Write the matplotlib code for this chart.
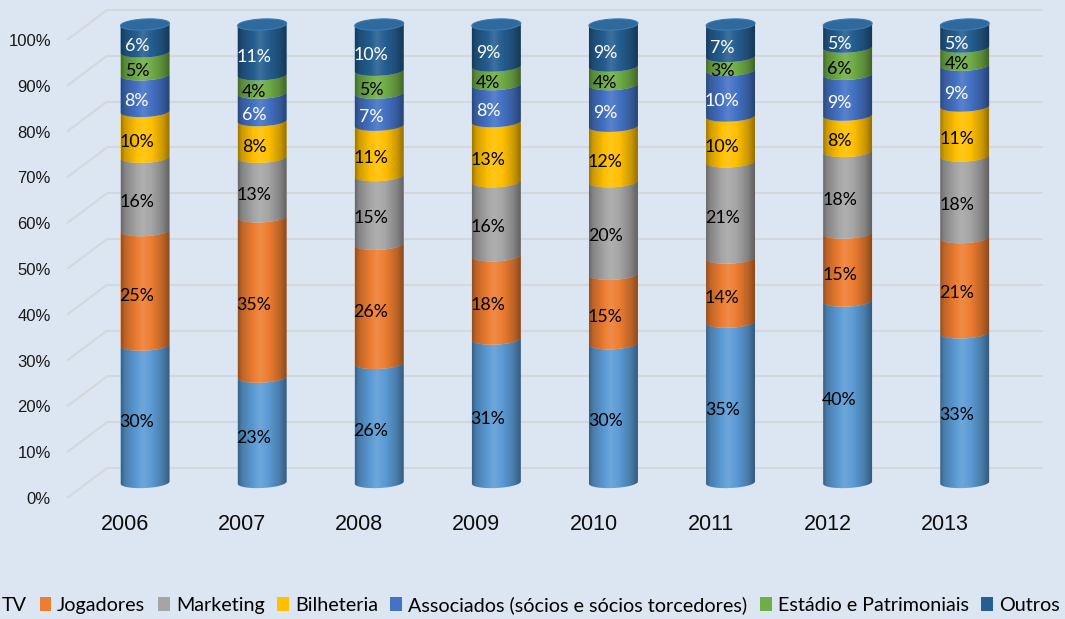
import numpy as np
import matplotlib
matplotlib.use('Agg')
import matplotlib.pyplot as plt
from matplotlib.patches import Polygon, Patch

# ---------------- data ----------------
years = ['2006', '2007', '2008', '2009', '2010', '2011', '2012', '2013']
series_names = ['TV', 'Jogadores', 'Marketing', 'Bilheteria',
                'Associados (sócios e sócios torcedores)',
                'Estádio e Patrimoniais', 'Outros']
tv          = [30, 23, 26, 31, 30, 35, 40, 33]
jogadores   = [25, 35, 26, 18, 15, 14, 15, 21]
marketing   = [16, 13, 15, 16, 20, 21, 18, 18]
bilheteria  = [10,  8, 11, 13, 12, 10,  8, 11]
associados  = [ 8,  6,  7,  8,  9, 10,  9,  9]
estadio     = [ 5,  4,  5,  4,  4,  3,  6,  4]
outros      = [ 6, 11, 10,  9,  9,  7,  5,  5]
y_ticks = [0, 10, 20, 30, 40, 50, 60, 70, 80, 90, 100]

series = [tv, jogadores, marketing, bilheteria, associados, estadio, outros]
colors = ['#5B9BD5', '#ED7D31', '#A5A5A5', '#FFC000', '#4472C4', '#70AD47', '#255E91']
label_colors = ['black', 'black', 'black', 'black', 'white', 'black', 'white']
cap_color = '#2F6A9F'
bg = '#DCE6F2'
grid_c = '#D3D8DE'

# ---------------- figure ----------------
W, H = 1065, 619
fig = plt.figure(figsize=(W / 100, H / 100), dpi=100, facecolor=bg)
ax = fig.add_axes([60 / W, 114 / H, 1005 / W, 505 / H])
ax.set_facecolor('none')
for s in ax.spines.values():
    s.set_visible(False)

XL = (-0.726, 7.856)
YL = (-4.91, 105.35)
front_off = -3.38
back_off = 3.17

# perspective gridlines (side wall + back wall)
for v in y_ticks:
    ax.plot([-0.666, -0.3245], [v + front_off, v + back_off], color=grid_c, lw=1.6,
            solid_capstyle='butt', zorder=0)
    ax.plot([-0.3245, 7.669], [v + back_off, v + back_off], color=grid_c, lw=1.6,
            solid_capstyle='butt', zorder=0)

# normalise to 100 % (Excel 100 % stacked)
data = np.array(series, dtype=float)
totals = data.sum(axis=0)
pct = data / totals * 100.0

hw = 0.209      # half bar width (category units)
ry = 1.2        # ellipse half-height (percent units)
tilt = 0.25     # slight tilt of ellipses

t_low = np.linspace(np.pi, 2 * np.pi, 60)


def arc(c, v, t):
    x = c + hw * np.cos(t)
    y = v + ry * np.sin(t) + tilt * np.cos(t)
    return x, y


# horizontal shading profile of a cylinder
nx = 200
u = np.linspace(0, 1, nx)
shade = np.interp(u, [0, 0.08, 0.3, 0.45, 0.62, 0.85, 1.0],
                  [0.38, 0.2, 0.02, -0.12, 0.0, 0.2, 0.42])
rgba = np.zeros((2, nx, 4))
rgba[..., 0:3] = np.where(shade[None, :, None] > 0, 0.0, 1.0)
rgba[..., 3] = np.abs(shade)[None, :]

for i in range(len(years)):
    c = i
    bottom = 0.0
    for k in range(len(series)):
        h = pct[k, i]
        top = bottom + h
        xt, yt = arc(c, top, t_low)
        xb, yb = arc(c, bottom, t_low[::-1])
        poly = Polygon(np.column_stack([np.r_[xt, xb], np.r_[yt, yb]]),
                       closed=True, facecolor=colors[k], edgecolor='none', zorder=2)
        ax.add_patch(poly)
        ax.text(c - 0.07, bottom + h / 2 - 1.7, f'{series[k][i]}%', ha='center', va='center',
                color=label_colors[k], fontsize=12.8, family=['Lato', 'DejaVu Sans'], zorder=6)
        bottom = top
    # body outline for clipping the shading
    xt, yt = arc(c, 100.0, t_low)
    xb, yb = arc(c, 0.0, t_low[::-1])
    body = Polygon(np.column_stack([np.r_[xt, xb], np.r_[yt, yb]]), closed=True,
                   facecolor='none', edgecolor='none', zorder=3)
    ax.add_patch(body)
    im = ax.imshow(rgba, extent=[c - hw, c + hw, -3, 103], aspect='auto',
                   interpolation='bilinear', zorder=3)
    im.set_clip_path(body)
    # top cap
    tt = np.linspace(0, 2 * np.pi, 120)
    xc, yc = arc(c, 100.0, tt)
    ax.add_patch(Polygon(np.column_stack([xc, yc]), closed=True, facecolor=cap_color,
                         edgecolor='#3C78AE', lw=0.8, zorder=4))

ax.set_xlim(*XL)
ax.set_ylim(*YL)

# y tick labels (front of the side wall)
ax.set_yticks([v + front_off for v in y_ticks])
ax.set_yticklabels([f'{v}%' for v in y_ticks], family=['Liberation Sans', 'DejaVu Sans'],
                   fontsize=12, color='#1A1A1A')
ax.tick_params(axis='y', length=0, pad=6.5)
# category labels (front edge)
ax.set_xticks([i - 0.17 for i in range(len(years))])
ax.set_xticklabels(years, family=['Liberation Sans', 'DejaVu Sans'], fontsize=15.5, color='#0D0D0D')
ax.tick_params(axis='x', length=0, pad=6.5)

# legend
handles = [Patch(facecolor=col, edgecolor='none') for col in colors]
fig.legend(handles, series_names, loc='center', bbox_to_anchor=(522 / W, 1 - 605 / H),
           ncol=7, frameon=False, handlelength=0.6, handleheight=0.75, handletextpad=0.3,
           columnspacing=0.64, borderpad=0, borderaxespad=0,
           prop={'family': ['Lato', 'DejaVu Sans'], 'size': 14.2})

fig.savefig('out.png', dpi=100, facecolor=bg)
